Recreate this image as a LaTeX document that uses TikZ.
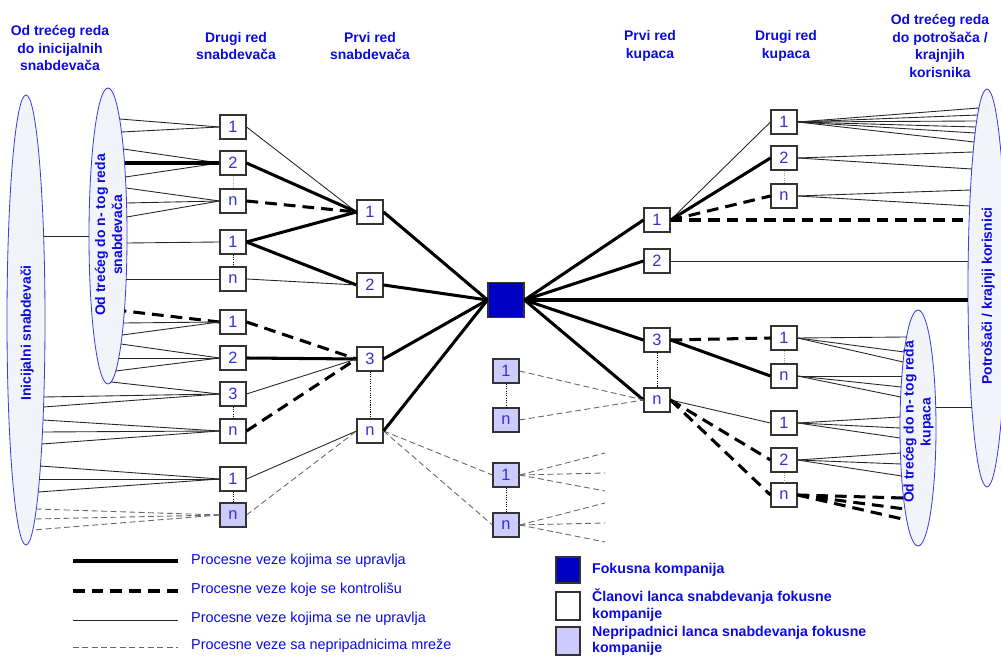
\documentclass[tikz,border=0pt]{standalone}
\usepackage{fontspec}
\setmainfont{Liberation Sans}
\usetikzlibrary{shapes.geometric}
\definecolor{hdr}{RGB}{10,10,225}
\definecolor{num}{RGB}{50,50,210}
\definecolor{focal}{RGB}{0,0,195}
\definecolor{nonmem}{RGB}{204,204,255}
\definecolor{ellfill}{RGB}{243,244,250}
\definecolor{elldraw}{RGB}{60,60,225}
\newcommand\myfan[7]{\foreach \yy in {#7}{\pgfmathsetmacro\xx{#3#4*sqrt(1-((\yy-#5)/#6)*((\yy-#5)/#6))}\draw[#1] (#2) -- (\xx,\yy);}}
\begin{document}
\begin{tikzpicture}[x=0.03cm,y=-0.03cm,
 box/.style={draw=black!80, line width=0.9pt, fill=white, minimum width=0.78cm, minimum height=0.72cm, inner sep=0pt, text=num, font=\fontsize{14}{14}\selectfont},
 nbox/.style={box, fill=nonmem},
 ell/.style={ellipse, draw=elldraw, line width=0.7pt, fill=ellfill, inner sep=0pt},
 hdrtext/.style={text=hdr, font=\bfseries\fontsize{11.9}{15}\selectfont, align=center},
 elltext/.style={text=hdr, font=\bfseries\fontsize{11.9}{14.5}\selectfont, align=center, rotate=90},
 mgd/.style={line width=2.6pt},
 ctl/.style={line width=2.6pt, dash pattern=on 10pt off 6pt},
 unm/.style={line width=0.75pt, black!85},
 non/.style={line width=0.75pt, black!60, dash pattern=on 5pt off 3pt},
 dotl/.style={line width=0.7pt, dash pattern=on 1pt off 1pt},
 gdotl/.style={dotl, black!35},
 legtext/.style={text=hdr, font=\fontsize{12.3}{14}\selectfont, anchor=west},
 legbold/.style={text=hdr, font=\bfseries\fontsize{12.1}{14}\selectfont, anchor=west, align=left}
]
\useasboundingbox (0,0) rectangle (1001,657);

% headers
\node[hdrtext] (h1) at (60,48) {Od trećeg reda\\do inicijalnih\\snabdevača};
\node[hdrtext] (h2) at (236,46) {Drugi red\\snabdevača};
\node[hdrtext] (h3) at (370,46) {Prvi red\\snabdevača};
\node[hdrtext] (h4) at (650,46) {Prvi red\\kupaca};
\node[hdrtext] (h5) at (786,46) {Drugi red\\kupaca};
\node[hdrtext] (h6) at (940,46) {Od trećeg reda\\do potrošača /\\krajnjih\\korisnika};

% ellipses
\node[ell, minimum width=1.14cm, minimum height=13.5cm] (EI) at (26,320) {};
\node[ell, minimum width=1.14cm, minimum height=8.88cm] (EN) at (108,236) {};
\node[ell, minimum width=1.14cm, minimum height=11.94cm] (EP) at (987,288) {};
\node[ell, minimum width=1.08cm, minimum height=7.08cm] (EK) at (918,428) {};
\node[elltext] (tEI) at (27,333) {Inicijalni snabdevači};
\node[elltext] (tEN) at (108.5,235) {Od trećeg do n- tog reda\\snabdevača};
\node[elltext] (tEP) at (988,296) {Potrošači / krajnji korisnici};
\node[elltext] (tEK) at (918.5,422) {Od trećeg do n- tog reda\\kupaca};
\draw[unm] (43.6,236) -- (89,236);
\draw[unm] (935.7,407) -- (971.8,407);

% boxes left second tier
\node[box] (a1) at (233,127) {1};
\node[box] (a2) at (233,163) {2};
\node[box] (an) at (233,201) {n};
\node[box] (b1) at (233,242) {1};
\node[box] (bn) at (233,279) {n};
\node[box] (c1) at (233,322) {1};
\node[box] (c2) at (233,358) {2};
\node[box] (c3) at (233,394) {3};
\node[box] (cn) at (233,431) {n};
\node[box] (d1) at (233,479) {1};
\node[nbox] (dn) at (233,515) {n};
% first tier suppliers
\node[box] (p1) at (370,212) {1};
\node[box] (p2) at (370,285) {2};
\node[box] (p3) at (370,359) {3};
\node[box] (pn) at (370,431) {n};
% focal
\node[draw=black!80, line width=0.9pt, fill=focal, minimum width=1.08cm, minimum height=1.05cm, inner sep=0pt] (F) at (506,300) {};
% middle non-members
\node[nbox] (m1) at (506,371) {1};
\node[nbox] (mn) at (506,420) {n};
\node[nbox] (q1) at (506,475) {1};
\node[nbox] (qn) at (506,525) {n};
% first tier customers
\node[box] (r1) at (657,220) {1};
\node[box] (r2) at (657,261) {2};
\node[box] (r3) at (657,340) {3};
\node[box] (rn) at (657,400) {n};
% second tier customers
\node[box] (s1) at (784,122) {1};
\node[box] (s2) at (784,158) {2};
\node[box] (sn) at (784,196) {n};
\node[box] (t1) at (784,338) {1};
\node[box] (tn) at (784,376) {n};
\node[box] (u1) at (784,423) {1};
\node[box] (u2) at (784,460) {2};
\node[box] (un) at (784,495) {n};

% dotted links
\draw[gdotl] (a2.south) -- (an.north);
\draw[dotl] (b1.south) -- (bn.north);
\draw[dotl] (c3.south) -- (cn.north);
\draw[dotl] (d1.south) -- (dn.north);
\draw[dotl] (p3.south) -- (pn.north);
\draw[dotl] (m1.south) -- (mn.north);
\draw[dotl] (q1.south) -- (qn.north);
\draw[dotl] (r3.south) -- (rn.north);
\draw[gdotl] (s2.south) -- (sn.north);
\draw[gdotl] (t1.south) -- (tn.north);
\draw[gdotl] (u2.south) -- (un.north);

% fans to left ellipses
\myfan{unm}{a1.west}{108}{+19}{236}{148}{119,132}
\myfan{unm}{a2.west}{108}{+19}{236}{148}{149,177}
\myfan{mgd}{a2.west}{108}{+19}{236}{148}{163}
\myfan{unm}{an.west}{108}{+19}{236}{148}{188,203,217}
\myfan{unm}{b1.west}{108}{+19}{236}{148}{243}
\myfan{unm}{bn.west}{108}{+19}{236}{148}{279}
\myfan{ctl}{c1.west}{108}{+19}{236}{148}{311}
\myfan{unm}{c1.west}{108}{+19}{236}{148}{323,335}
\myfan{unm}{c2.west}{108}{+19}{236}{148}{344,358,371}
\myfan{unm}{c3.west}{108}{+19}{236}{148}{382}
\myfan{unm}{c3.west}{26}{+19}{320}{225}{397,407}
\myfan{unm}{cn.west}{26}{+19}{320}{225}{420,432,444}
\myfan{unm}{d1.west}{26}{+19}{320}{225}{466,479,492}
\myfan{non}{dn.west}{26}{+19}{320}{225}{509,519,530}

% second tier -> first tier suppliers
\draw[unm] (a1.east) -- (p1.west);
\draw[mgd] (a2.east) -- (p1.west);
\draw[ctl] (an.east) -- (p1.west);
\draw[mgd] (b1.east) -- (p1.west);
\draw[mgd] (b1.east) -- (p2.west);
\draw[unm] (bn.east) -- (p2.west);
\draw[ctl] (c1.east) -- (p3.west);
\draw[mgd] (c2.east) -- (p3.west);
\draw[unm] (c3.east) -- (p3.west);
\draw[ctl] (cn.east) -- (p3.west);
\draw[unm] (d1.east) -- (pn.west);
\draw[non] (dn.east) -- (pn.west);
\draw[non] (pn.east) -- (q1.west);
\draw[non] (pn.east) -- (qn.west);

% first tier -> focal
\draw[mgd] (p1.east) -- (F.west);
\draw[mgd] (p2.east) -- (F.west);
\draw[mgd] (p3.east) -- (F.west);
\draw[mgd] (pn.east) -- (F.west);

% focal -> customers
\draw[mgd] (F.east) -- (r1.west);
\draw[mgd] (F.east) -- (r2.west);
\draw[mgd] (F.east) -- (r3.west);
\draw[mgd] (F.east) -- (rn.west);
\myfan{mgd}{F.east}{987}{-19}{288}{199}{300}

% middle non-members
\draw[non] (m1.east) -- (rn.west);
\draw[non] (mn.east) -- (rn.west);
\foreach \yy in {453,473,491} {\draw[non] (q1.east) -- (605,\yy);}
\foreach \yy in {503,523,542} {\draw[non] (qn.east) -- (605,\yy);}

% first tier customers -> second tier
\draw[unm] (r1.east) -- (s1.west);
\draw[mgd] (r1.east) -- (s2.west);
\draw[ctl] (r1.east) -- (sn.west);
\myfan{ctl}{r1.east}{987}{-19}{288}{199}{220}
\myfan{unm}{r2.east}{987}{-19}{288}{199}{261}
\draw[ctl] (r3.east) -- (t1.west);
\draw[mgd] (r3.east) -- (tn.west);
\draw[unm] (rn.east) -- (u1.west);
\draw[ctl] (rn.east) -- (u2.west);
\draw[ctl] (rn.east) -- (un.west);

% fans to right ellipses
\myfan{unm}{s1.east}{987}{-19}{288}{199}{108,115,121,127,133,142}
\myfan{unm}{s2.east}{987}{-19}{288}{199}{152,169}
\myfan{unm}{sn.east}{987}{-19}{288}{199}{190,206}
\myfan{unm}{t1.east}{918}{-18}{428}{118}{337,352,362}
\myfan{unm}{tn.east}{918}{-18}{428}{118}{376,387,397}
\myfan{unm}{u1.east}{918}{-18}{428}{118}{417,428,438}
\myfan{unm}{u2.east}{918}{-18}{428}{118}{453,464,476}
\myfan{ctl}{un.east}{918}{-18}{428}{118}{498,509,520}

% legend left
\coordinate (l1a) at (73,561); \coordinate (l1b) at (178,561);
\coordinate (l2a) at (73,591); \coordinate (l2b) at (178,591);
\coordinate (l3a) at (73,620); \coordinate (l3b) at (178,620);
\coordinate (l4a) at (73,647); \coordinate (l4b) at (178,647);
\draw[mgd] (l1a) -- (l1b);
\draw[ctl] (l2a) -- (l2b);
\draw[unm] (l3a) -- (l3b);
\draw[non] (l4a) -- (l4b);
\node[legtext] (lt1) at (187,561) {Procesne veze kojima se upravlja};
\node[legtext] (lt2) at (187,590) {Procesne veze koje se kontrolišu};
\node[legtext] (lt3) at (187,619) {Procesne veze kojima se ne upravlja};
\node[legtext] (lt4) at (187,646) {Procesne veze sa nepripadnicima mreže};

% legend right
\node[draw=black!80, line width=0.9pt, fill=focal, minimum width=0.72cm, minimum height=0.78cm, inner sep=0pt] (lf) at (568,570) {};
\node[box, minimum width=0.72cm, minimum height=0.84cm] (lm) at (568,606) {};
\node[nbox, minimum width=0.72cm, minimum height=0.84cm] (ln) at (568,641) {};
\node[legbold] (lft) at (588,570) {Fokusna kompanija};
\node[legbold] (lmt) at (588,605) {Članovi lanca snabdevanja fokusne\\kompanije};
\node[legbold] (lnt) at (588,641) {Nepripadnici lanca snabdevanja fokusne\\kompanije};
\end{tikzpicture}
\end{document}
